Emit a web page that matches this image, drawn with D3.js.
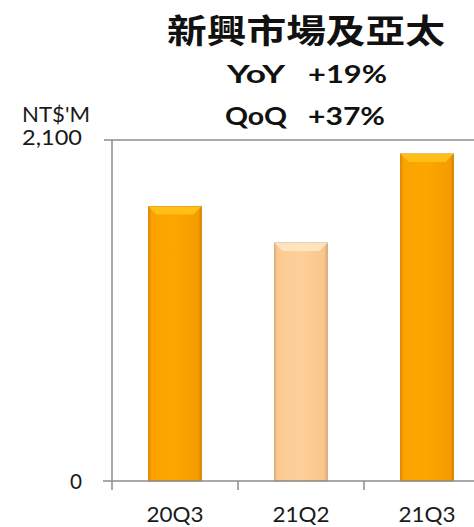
<!DOCTYPE html>
<html>
<head>
<meta charset="utf-8">
<script src="https://cdn.jsdelivr.net/npm/d3@7"></script>
<style>
  body { margin: 0; background: #fff; }
  svg { display: block; }
</style>
</head>
<body>
<div id="chart"></div>
<script>
// data
var categories = ["20Q3", "21Q2", "21Q3"];
var revenue = [1690, 1466, 2014];
var barKinds = ["dark", "light", "dark"];
var yTicks = [0, 2100];
var yTickLabels = ["0", "2,100"];
var title = "新興市場及亞太";
var growthLabels = ["YoY", "QoQ"];
var growthValues = ["+19%", "+37%"];
var unitLabel = "NT$'M";

var width = 474, height = 527;
var svg = d3.select("#chart").append("svg")
  .attr("width", width)
  .attr("height", height);

var defs = svg.append("defs");
function makeGrad(id, stops) {
  var g = defs.append("linearGradient").attr("id", id)
    .attr("x1", "0%").attr("x2", "100%").attr("y1", "0%").attr("y2", "0%");
  stops.forEach(function(s) {
    g.append("stop").attr("offset", s[0]).attr("stop-color", s[1]);
  });
}
makeGrad("gradDark", [["0%", "#e88a00"], ["6%", "#fba200"], ["50%", "#fda600"], ["94%", "#f59c00"], ["100%", "#d98000"]]);
makeGrad("gradLight", [["0%", "#e9b27c"], ["6%", "#fccb92"], ["50%", "#fdd09a"], ["94%", "#f8c68c"], ["100%", "#d8a878"]]);
var topColor = { dark: "#ffc21a", light: "#ffe6c4" };

var x = d3.scaleBand()
  .domain(categories)
  .range([112, 490])
  .padding(0);

var y = d3.scaleLinear()
  .domain([0, 2100])
  .range([481, 140]);

var axisColor = "#8c8c8c";

// top gridline at max
svg.append("line")
  .attr("x1", 104).attr("x2", width)
  .attr("y1", y(2100)).attr("y2", y(2100))
  .attr("stroke", axisColor).attr("stroke-width", 1.5);

// y axis line
svg.append("line")
  .attr("x1", x.range()[0]).attr("x2", x.range()[0])
  .attr("y1", y(2100)).attr("y2", y(0))
  .attr("stroke", axisColor).attr("stroke-width", 1.5);

// bars
var bw = x.bandwidth() * 0.42;
var bars = svg.append("g").selectAll("g")
  .data(categories)
  .enter().append("g");

bars.append("rect")
  .attr("x", function(d) { return x(d) + (x.bandwidth() - bw) / 2; })
  .attr("y", function(d, i) { return y(revenue[i]); })
  .attr("width", bw)
  .attr("height", function(d, i) { return y(0) - y(revenue[i]); })
  .attr("fill", function(d, i) { return barKinds[i] == "dark" ? "url(#gradDark)" : "url(#gradLight)"; })
  .attr("stroke", function(d, i) { return barKinds[i] == "dark" ? "#d88a10" : "#d9ad80"; })
  .attr("stroke-width", 1);

// top bevel
bars.append("path")
  .attr("d", function(d, i) {
    var x0 = x(d) + (x.bandwidth() - bw) / 2, x1 = x0 + bw;
    var t = y(revenue[i]), b = 8;
    return "M" + x0 + "," + t + "L" + x1 + "," + t + "L" + (x1 - b) + "," + (t + b) + "L" + (x0 + b) + "," + (t + b) + "Z";
  })
  .attr("fill", function(d, i) { return topColor[barKinds[i]]; })
  .attr("opacity", 0.9);

// x axis
svg.append("line")
  .attr("x1", 103).attr("x2", width)
  .attr("y1", y(0)).attr("y2", y(0))
  .attr("stroke", axisColor).attr("stroke-width", 1.5);

var tickXs = categories.map(function(d) { return x(d); });
svg.append("g").selectAll("line")
  .data(tickXs)
  .enter().append("line")
  .attr("x1", function(d) { return d; }).attr("x2", function(d) { return d; })
  .attr("y1", y(0)).attr("y2", y(0) + 9)
  .attr("stroke", axisColor).attr("stroke-width", 1.5);

var labelFont = "Lato, 'Open Sans', sans-serif";
var textColor = "#1a1a1a";

// text stretched to the width seen in the picture
function stretched(sel, len) {
  return sel.attr("textLength", len).attr("lengthAdjust", "spacingAndGlyphs");
}

stretched(svg.append("g").selectAll("text")
  .data(categories)
  .enter().append("text")
  .attr("x", function(d) { return x(d) + x.bandwidth() / 2; })
  .attr("y", 522)
  .attr("text-anchor", "middle")
  .attr("font-family", labelFont)
  .attr("font-size", 21)
  .attr("fill", textColor)
  .text(function(d) { return d; }), 57);

// y tick labels
svg.append("g").selectAll("text")
  .data(yTicks)
  .enter().append("text")
  .attr("x", 82)
  .attr("y", function(d) { return d == 0 ? y(d) + 8 : y(d) + 5; })
  .attr("text-anchor", "end")
  .attr("font-family", labelFont)
  .attr("font-size", 21)
  .attr("fill", textColor)
  .each(function(d, i) {
    var t = d3.select(this).text(yTickLabels[i]);
    if (d != 0) stretched(t, 60);
    else stretched(t, 12);
  });

stretched(svg.append("text")
  .attr("x", 22).attr("y", 122)
  .attr("font-family", labelFont)
  .attr("font-size", 21)
  .attr("fill", textColor)
  .text(unitLabel), 68);

// title block
stretched(svg.append("text")
  .attr("x", 167).attr("y", 43)
  .attr("font-family", "'Noto Sans CJK TC', sans-serif")
  .attr("font-weight", "bold")
  .attr("font-size", 33)
  .attr("fill", "#111")
  .text(title), 278);

var labelX = [[227, 58], [225, 62]];
var valueX = [[308, 79], [308, 77]];
growthLabels.forEach(function(lab, i) {
  var yy = 83 + i * 42;
  stretched(svg.append("text")
    .attr("x", labelX[i][0]).attr("y", yy)
    .attr("font-family", labelFont)
    .attr("font-weight", "bold")
    .attr("font-size", 25)
    .attr("fill", "#111")
    .text(lab), labelX[i][1]);
  stretched(svg.append("text")
    .attr("x", valueX[i][0]).attr("y", yy)
    .attr("font-family", labelFont)
    .attr("font-weight", "bold")
    .attr("font-size", 25)
    .attr("fill", "#111")
    .text(growthValues[i]), valueX[i][1]);
});
</script>
</body>
</html>
